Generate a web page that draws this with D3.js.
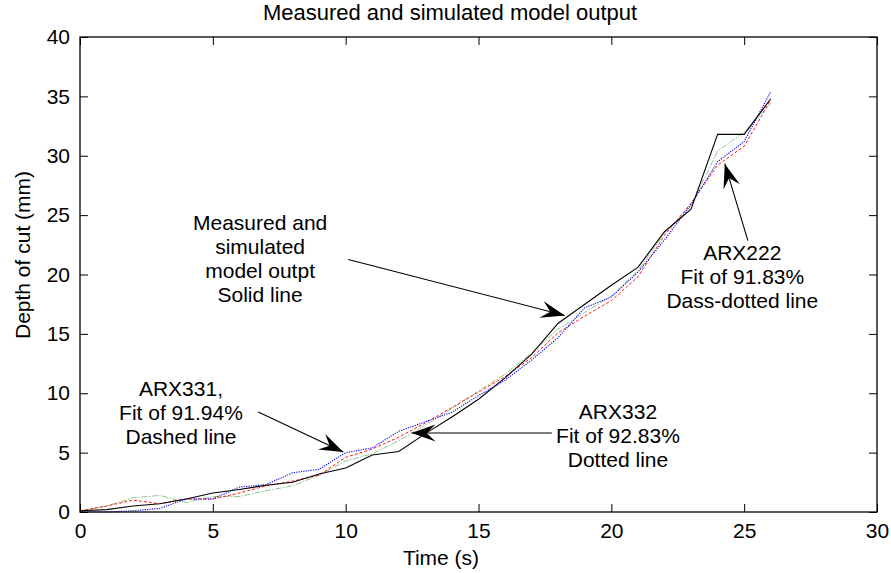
<!DOCTYPE html>
<html>
<head>
<meta charset="utf-8">
<script src="https://cdn.jsdelivr.net/npm/d3@7"></script>
<style>
  html, body { margin: 0; padding: 0; background: #fff; }
  svg { display: block; }
  text { font-family: "Liberation Sans", Arial, sans-serif; fill: #000; }
</style>
</head>
<body>
<svg id="chart" width="891" height="573"></svg>
<script>
// ---- data ----
const time = [0,1,2,3,4,5,6,7,8,9,10,11,12,13,14,15,16,17,18,19,20,21,22,23,24,25,26];
const measured = [0.1,0.2,0.5,0.7,1.1,1.6,1.9,2.25,2.5,3.2,3.7,4.8,5.1,6.6,8.0,9.5,11.3,13.3,15.9,17.5,19.1,20.6,23.6,25.5,31.8,31.8,34.8];
const arx331 = [0.1,0.5,1.0,0.7,1.1,1.1,1.6,2.2,2.6,3.1,4.6,5.3,6.3,7.5,8.8,10.1,11.4,13.0,15.1,16.5,17.8,19.8,23.3,26.0,29.2,30.8,34.7];
const arx332 = [0.0,0.0,0.1,0.3,1.1,1.1,2.1,2.3,3.3,3.6,5.0,5.4,6.8,7.6,8.4,9.8,11.1,12.8,14.7,17.2,18.1,20.2,22.9,25.9,29.5,31.2,35.4];
const arx222 = [0.1,0.5,1.2,1.4,0.8,1.3,1.3,1.8,2.2,3.1,4.3,4.9,6.0,7.3,8.7,10.2,11.6,13.4,15.4,16.8,18.2,20.3,23.5,25.8,30.4,32.0,34.4];
const xTicks = [0,5,10,15,20,25,30];
const yTicks = [0,5,10,15,20,25,30,35,40];
const titleText = "Measured and simulated model output";
const xLabel = "Time (s)";
const yLabel = "Depth of cut (mm)";
// annotations: text lines + arrow tail/tip in data coordinates
const annotations = [
  { lines: ["Measured and", "simulated", "model outpt", "Solid line"], cx: 6.78, cy: 24.3, tail: [10.1, 21.26], tip: [18.25, 16.55] },
  { lines: ["ARX331,", "Fit of 91.94%", "Dashed line"], cx: 3.80, cy: 10.4, tail: [6.71, 8.42], tip: [9.91, 5.05] },
  { lines: ["ARX332", "Fit of 92.83%", "Dotted line"], cx: 20.25, cy: 8.46, tail: [17.76, 6.65], tip: [12.48, 6.65] },
  { lines: ["ARX222", "Fit of 91.83%", "Dass-dotted line"], cx: 24.93, cy: 21.85, tail: [25.14, 22.86], tip: [24.27, 29.33] }
];

// ---- layout ----
const svg = d3.select("#chart");
const L = 80, R = 877, T = 37, B = 512;
const x = d3.scaleLinear().domain([0, 30]).range([L, R]);
const y = d3.scaleLinear().domain([0, 40]).range([B, T]);
const FS = 21;

const g = svg.append("g");

// series
const series = [
  { v: arx222, color: "#2e9a2e", dash: "6,1.5,1.5,1.5", w: 0.8, op: 0.7 },
  { v: arx331, color: "#ff0000", dash: "3,2", w: 0.9, op: 1 },
  { v: arx332, color: "#0000ff", dash: "1.2,1.2", w: 1.1, op: 1 },
  { v: measured, color: "#000000", dash: null, w: 1.1, op: 1 }
];
const line = d3.line().x((d, i) => x(time[i])).y(d => y(d));
series.forEach(s => {
  g.append("path").datum(s.v)
    .attr("d", line)
    .attr("fill", "none")
    .attr("stroke", s.color)
    .attr("stroke-width", s.w)
    .attr("stroke-opacity", s.op)
    .attr("stroke-dasharray", s.dash);
});

// frame
g.append("rect").attr("x", L).attr("y", T).attr("width", R - L).attr("height", B - T)
  .attr("fill", "none").attr("stroke", "#000").attr("stroke-width", 1.3);

// axes (inward ticks)
const xAxisB = d3.axisBottom(x).tickValues(xTicks).tickSize(-8).tickPadding(11);
const xAxisT = d3.axisTop(x).tickValues(xTicks).tickSize(-8).tickFormat("");
const yAxisL = d3.axisLeft(y).tickValues(yTicks).tickSize(-8).tickPadding(10);
const yAxisR = d3.axisRight(y).tickValues(yTicks).tickSize(-8).tickFormat("");
function style(sel) {
  sel.select(".domain").remove();
  sel.selectAll(".tick line").attr("stroke", "#000").attr("stroke-width", 1);
  sel.selectAll(".tick text").attr("font-size", FS).attr("font-family", "Liberation Sans, Arial, sans-serif").attr("fill", "#000");
}
svg.append("g").attr("transform", `translate(0,${B})`).call(xAxisB).call(style);
svg.append("g").attr("transform", `translate(0,${T})`).call(xAxisT).call(style);
svg.append("g").attr("transform", `translate(${L},0)`).call(yAxisL).call(style);
svg.append("g").attr("transform", `translate(${R},0)`).call(yAxisR).call(style);

// titles
svg.append("text").attr("x", 450).attr("y", 20).attr("text-anchor", "middle")
  .attr("font-size", 22).text(titleText);
svg.append("text").attr("x", 441).attr("y", 565).attr("text-anchor", "middle")
  .attr("font-size", FS).text(xLabel);
svg.append("text").attr("transform", "translate(30,255) rotate(-90)").attr("text-anchor", "middle")
  .attr("font-size", FS).text(yLabel);

// annotations
function arrowHead(x1, y1, x2, y2) {
  const ang = Math.atan2(y2 - y1, x2 - x1);
  const len = 24, hw = 8.5, notch = 9;
  const cos = Math.cos(ang), sin = Math.sin(ang);
  const p = (a, b) => [x2 - a * cos + b * sin, y2 - a * sin - b * cos];
  return [p(0, 0), p(len, hw), p(len - notch, 0), p(len, -hw)];
}
annotations.forEach(a => {
  const x1 = x(a.tail[0]), y1 = y(a.tail[1]), x2 = x(a.tip[0]), y2 = y(a.tip[1]);
  svg.append("line").attr("x1", x1).attr("y1", y1).attr("x2", x2).attr("y2", y2)
    .attr("stroke", "#000").attr("stroke-width", 1.1);
  svg.append("polygon").attr("points", arrowHead(x1, y1, x2, y2).map(p => p.join(",")).join(" "))
    .attr("fill", "#000");
  const t = svg.append("text").attr("text-anchor", "middle").attr("font-size", FS);
  a.lines.forEach((ln, i) => {
    t.append("tspan").attr("x", x(a.cx)).attr("y", y(a.cy) + 7 + i * 24).text(ln);
  });
});
</script>
</body>
</html>
